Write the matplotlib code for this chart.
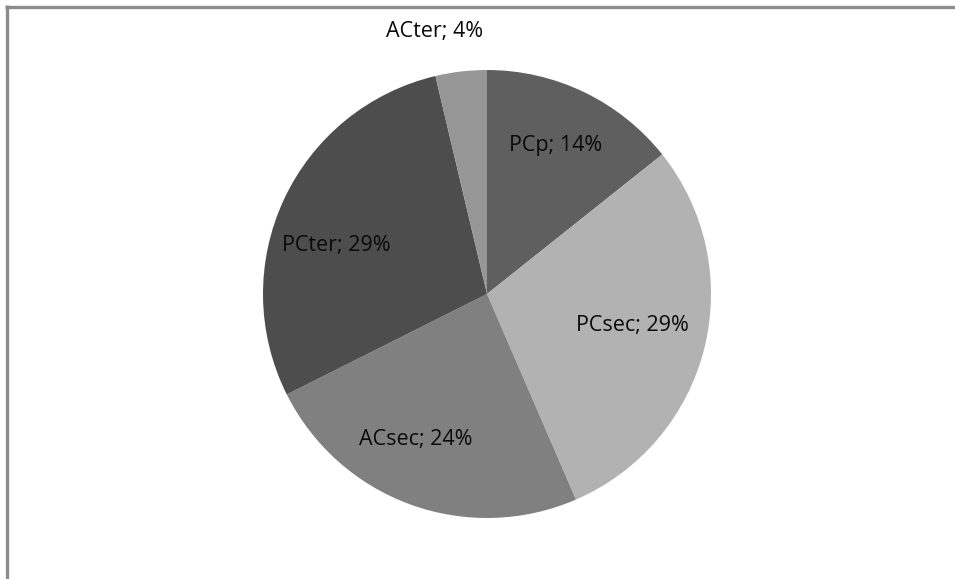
import matplotlib
matplotlib.use("Agg")
import matplotlib.pyplot as plt
from matplotlib.lines import Line2D

categories = ["PCp", "PCsec", "ACsec", "PCter", "ACter"]
values = [14.3, 29.2, 24.1, 28.7, 3.7]
colors = ["#5f5f5f", "#b2b2b2", "#808080", "#4d4d4d", "#969696"]

W, H = 955, 579
fig = plt.figure(figsize=(W / 100, H / 100), dpi=100)
fig.patch.set_facecolor("white")
ax = fig.add_axes([0, 0, 1, 1])

cx, cy, r = 487, H - 294, 224
wedges, _ = ax.pie(values, colors=colors, startangle=90, counterclock=False,
                   center=(cx, cy), radius=r, frame=True,
                   wedgeprops=dict(linewidth=0))
ax.set_xlim(0, W)
ax.set_ylim(0, H)
ax.set_aspect("equal")
ax.axis("off")

label_pos = [(556, 146), (632, 325), (416, 440), (336, 245), (435, 32)]
for name, v, (x, y) in zip(categories, values, label_pos):
    ax.text(x, H - y, f"{name}; {v:.0f}%", ha="center", va="center",
            fontsize=15.5, family=["Open Sans", "DejaVu Sans"], color="#0a0a0a")

fig.add_artist(Line2D([5 / W, 1], [1 - 6.5 / H, 1 - 6.5 / H], transform=fig.transFigure,
                      color="#8c8c8c", linewidth=2.4, solid_capstyle="butt"))
fig.add_artist(Line2D([6.5 / W, 6.5 / W], [0, 1 - 5 / H], transform=fig.transFigure,
                      color="#8c8c8c", linewidth=2.4, solid_capstyle="butt"))

fig.savefig("out.png", dpi=100, facecolor="white")
